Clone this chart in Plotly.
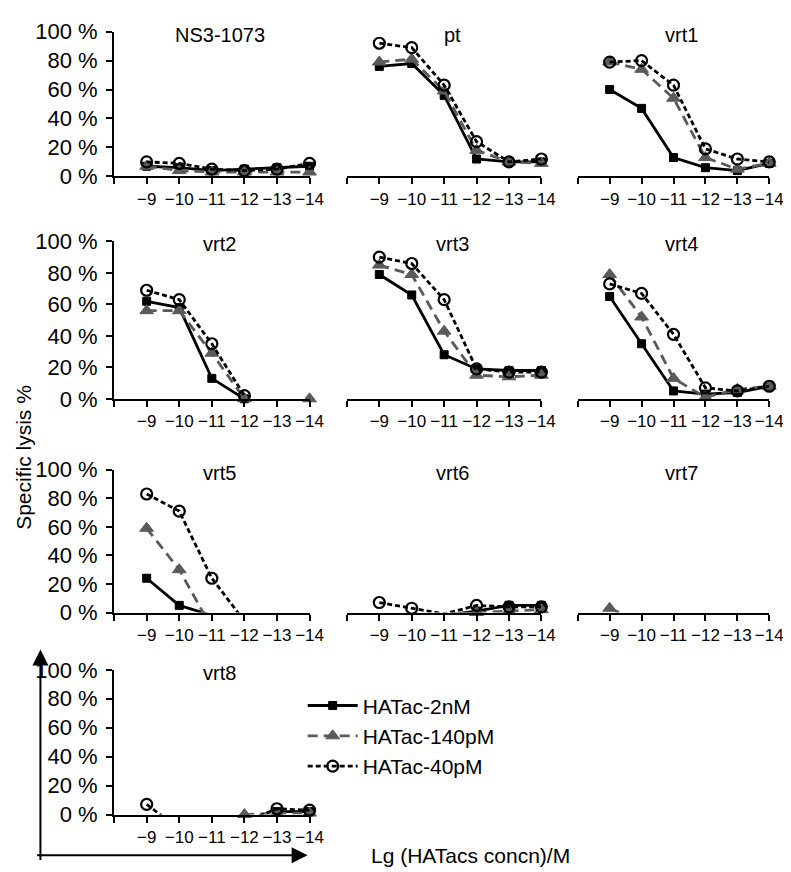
import plotly.graph_objects as go

# ---------------- data ----------------
conc = [-9, -10, -11, -12, -13, -14]
x_tick_vals = [-8, -9, -10, -11, -12, -13, -14]
x_tick_text = ["", "−9", "−10", "−11", "−12", "−13", "−14"]
y_tick_vals = [0, 20, 40, 60, 80, 100]
y_tick_text = ["0 %", "20 %", "40 %", "60 %", "80 %", "100 %"]

panel_names = ["NS3-1073", "pt", "vrt1", "vrt2", "vrt3", "vrt4",
               "vrt5", "vrt6", "vrt7", "vrt8"]
series_names = ["HATac-2nM", "HATac-140pM", "HATac-40pM"]

ns3_2nM = [7, 6, 4, 5, 6, 7]
ns3_140pM = [7, 4, 3, 3, 3, 3]
ns3_40pM = [10, 9, 5, 4, 5, 9]

pt_2nM = [76, 78, 56, 12, 10, 10]
pt_140pM = [79, 81, 59, 18, 10, 9]
pt_40pM = [92, 89, 63, 24, 10, 12]

vrt1_2nM = [60, 47, 13, 6, 4, 9]
vrt1_140pM = [79, 74, 54, 13, 5, 9]
vrt1_40pM = [79, 80, 63, 19, 12, 10]

vrt2_2nM = [62, 58, 13, 0, None, None]
vrt2_140pM = [56, 56, 29, 0, None, 0]
vrt2_40pM = [69, 63, 35, 2, None, None]

vrt3_2nM = [79, 66, 28, 19, 18, 18]
vrt3_140pM = [85, 79, 43, 15, 14, 15]
vrt3_40pM = [90, 86, 63, 19, 17, 17]

vrt4_2nM = [65, 35, 5, 3, 4, 8]
vrt4_140pM = [79, 52, 13, 1, 6, 8]
vrt4_40pM = [73, 67, 41, 7, 5, 8]

vrt5_2nM = [24, 5, -2, None, None, None]
vrt5_140pM = [59, 30, -11, None, None, None]
vrt5_40pM = [83, 71, 24, -6, None, None]

vrt6_2nM = [None, None, -2, 1, 5, 5]
vrt6_140pM = [None, None, None, 0, 1, 2]
vrt6_40pM = [7, 3, -1, 5, 4, 4]

vrt7_2nM = [None, None, None, None, None, None]
vrt7_140pM = [3, -7, None, None, None, None]
vrt7_40pM = [None, None, None, None, None, None]

vrt8_2nM = [None, None, None, None, 2, 2]
vrt8_140pM = [None, None, None, 0, 1, 1]
vrt8_40pM = [7, -10, None, -5, 4, 3]

panel_data = [
    (ns3_2nM, ns3_140pM, ns3_40pM),
    (pt_2nM, pt_140pM, pt_40pM),
    (vrt1_2nM, vrt1_140pM, vrt1_40pM),
    (vrt2_2nM, vrt2_140pM, vrt2_40pM),
    (vrt3_2nM, vrt3_140pM, vrt3_40pM),
    (vrt4_2nM, vrt4_140pM, vrt4_40pM),
    (vrt5_2nM, vrt5_140pM, vrt5_40pM),
    (vrt6_2nM, vrt6_140pM, vrt6_40pM),
    (vrt7_2nM, vrt7_140pM, vrt7_40pM),
    (vrt8_2nM, vrt8_140pM, vrt8_40pM),
]

# ---------------- layout geometry (pixels) ----------------
W, H = 791, 872
col_px = [(108, 307), (345, 543), (580, 775)]
row_px = [(12, 161), (228, 390), (463, 610), (669, 818)]
panel_pos = [(0, 0), (0, 1), (0, 2), (1, 0), (1, 1), (1, 2),
             (2, 0), (2, 1), (2, 2), (3, 0)]

FONT = "Liberation Sans, Arial, Helvetica, sans-serif"

styles = [
    dict(line=dict(color="black", width=2.8, dash="solid"),
         marker=dict(symbol="square", size=8, color="black",
                     line=dict(color="black", width=1))),
    dict(line=dict(color="#5a5a5a", width=2.8, dash="10px,6px"),
         marker=dict(symbol="triangle-up", size=12, color="#5a5a5a",
                     line=dict(color="#5a5a5a", width=1))),
    dict(line=dict(color="black", width=2.8, dash="5px,3px"),
         marker=dict(symbol="circle-open", size=11, color="black",
                     line=dict(color="black", width=2.2))),
]


def px2x(p):
    return p / W


def px2y(p):
    return 1 - p / H


fig = go.Figure()
layout = {}
annotations = []

for i, (name, data, (r, c)) in enumerate(zip(panel_names, panel_data, panel_pos)):
    n = i + 1
    xa = "x" if n == 1 else f"x{n}"
    ya = "y" if n == 1 else f"y{n}"
    xkey = "xaxis" if n == 1 else f"xaxis{n}"
    ykey = "yaxis" if n == 1 else f"yaxis{n}"
    x0, x1 = col_px[c]
    y0, y1 = row_px[r]
    layout[xkey] = dict(
        domain=[px2x(x0), px2x(x1)], anchor=ya, range=[-8, -14],
        tickmode="array", tickvals=x_tick_vals, ticktext=x_tick_text,
        tickangle=0, ticklabeloverflow="allow",
        showline=True, linecolor="black", linewidth=2.2,
        ticks="outside", ticklen=6, tickwidth=2, tickcolor="black",
        showgrid=False, zeroline=False,
        tickfont=dict(family=FONT, size=17, color="black"),
    )
    show_y = (c == 0)
    layout[ykey] = dict(
        domain=[px2y(y1), px2y(y0)], anchor=xa, range=[0, 100],
        tickmode="array", tickvals=y_tick_vals, ticktext=y_tick_text,
        showline=show_y, linecolor="black", linewidth=2.2,
        ticks="outside" if show_y else "", ticklen=6, tickwidth=2,
        tickcolor="black", showticklabels=show_y, ticklabelstandoff=4,
        showgrid=False, zeroline=False,
        tickfont=dict(family=FONT, size=22, color="black"),
    )
    for s, (vals, st, sname) in enumerate(zip(data, styles, series_names)):
        opac = [0 if (v is None or v < 0) else 1 for v in vals]
        mk = dict(st["marker"])
        mk["opacity"] = opac
        fig.add_trace(go.Scatter(
            x=conc, y=vals, mode="lines+markers", name=sname,
            line=st["line"], marker=mk, cliponaxis=False,
            connectgaps=False, showlegend=(i == 0), legendgroup=sname,
            xaxis=xa, yaxis=ya,
        ))
    annotations.append(dict(
        text=name, xref=xa, yref=ya, x=-11.25, y=100, yshift=-3,
        showarrow=False, xanchor="center", yanchor="middle",
        font=dict(family=FONT, size=20, color="black"),
    ))

# axis titles
annotations.append(dict(
    text="Specific lysis %", xref="paper", yref="paper",
    x=px2x(15), y=px2y(450), textangle=-90, showarrow=False,
    xanchor="center", yanchor="middle",
    font=dict(family=FONT, size=21, color="black"),
))
annotations.append(dict(
    text="Lg (HATacs concn)/M", xref="paper", yref="paper",
    x=px2x(368), y=px2y(860), showarrow=False,
    xanchor="left", yanchor="middle",
    font=dict(family=FONT, size=21, color="black"),
))
# arrows of the overall frame
annotations.append(dict(
    text="", xref="paper", yref="paper", x=px2x(33), y=px2y(648),
    ax=0, ay=212, axref="pixel", ayref="pixel", showarrow=True,
    arrowhead=2, arrowsize=1.6, arrowwidth=2, arrowcolor="black",
    standoff=0, startstandoff=0,
))
annotations.append(dict(
    text="", xref="paper", yref="paper", x=px2x(305), y=px2y(860),
    ax=-272, ay=0, axref="pixel", ayref="pixel", showarrow=True,
    arrowhead=2, arrowsize=1.6, arrowwidth=2, arrowcolor="black",
    standoff=0, startstandoff=0,
))

fig.update_layout(
    width=W, height=H,
    margin=dict(l=0, r=0, t=0, b=0),
    paper_bgcolor="white", plot_bgcolor="white",
    font=dict(family=FONT, size=20, color="black"),
    showlegend=True,
    legend=dict(
        x=px2x(300), y=px2y(685), xanchor="left", yanchor="top",
        bgcolor="rgba(0,0,0,0)", borderwidth=0,
        font=dict(family=FONT, size=21, color="black"),
        itemwidth=50, tracegroupgap=0, traceorder="normal",
    ),
    annotations=annotations,
    **layout,
)

fig.write_html("out.html")
